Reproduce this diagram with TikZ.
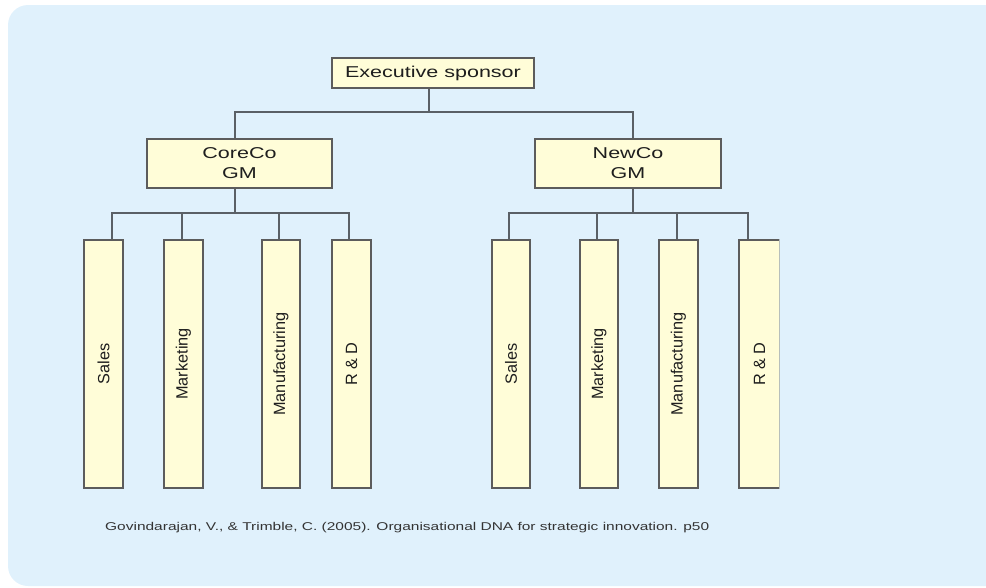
\documentclass[tikz,border=0pt]{standalone}
\usepackage{fontspec}
\setmainfont{Liberation Sans}
\newfontfamily\hfont[FakeStretch=1.37]{Liberation Sans}
\usetikzlibrary{calc}
\definecolor{bgblue}{HTML}{E0F1FC}
\definecolor{boxfill}{HTML}{FFFDD8}
\definecolor{boxline}{HTML}{5C5C5C}
\definecolor{connc}{HTML}{5A6066}
\definecolor{txt}{HTML}{1E1E1E}
\definecolor{captxt}{HTML}{333333}
\begin{document}
\begin{tikzpicture}[x=1pt,y=-1pt,
  hbox/.style={draw=boxline, fill=boxfill, line width=1.2pt, inner sep=0pt,
    font=\hfont\fontsize{15.7}{20}\selectfont, text=txt, align=center},
  vbox/.style={draw=boxline, fill=boxfill, line width=1.2pt, inner sep=0pt,
    minimum height=248pt, minimum width=39pt,
    font=\fontsize{16.3}{19}\selectfont, text=txt},
  conn/.style={draw=connc, line width=1.4pt},
  caption/.style={font=\hfont\fontsize{11.3}{14}\selectfont, text=captxt, inner sep=0pt}]
\useasboundingbox (0,0) rectangle (986,587);
\begin{scope}
  \clip (0,0) rectangle (986,587);
  \fill[bgblue, rounded corners=20pt] (1020,5) -- (8,5) -- (8,586) -- (1020,586) -- cycle;
\end{scope}

% top level
\node[hbox, minimum width=202pt, minimum height=30pt] (exec) at (433,73) {Executive sponsor};
\node[hbox, minimum width=185pt, minimum height=49pt] (core) at (239.5,163.5) {CoreCo\\GM};
\node[hbox, minimum width=186pt, minimum height=49pt] (new) at (628,163.5) {NewCo\\GM};

% CoreCo departments
\node[vbox] (lsal) at (103.5,364) {\rotatebox{90}{Sales}};
\node[vbox] (lmkt) at (183.5,364) {\rotatebox{90}{Marketing}};
\node[vbox, minimum width=38pt] (lman) at (281,364) {\rotatebox{90}{Manufacturing}};
\node[vbox] (lrd) at (351.5,364) {\rotatebox{90}{R \& D}};

% NewCo departments
\node[vbox, minimum width=38pt] (rsal) at (511,364) {\rotatebox{90}{Sales}};
\node[vbox, minimum width=38pt] (rmkt) at (599,364) {\rotatebox{90}{Marketing}};
\node[vbox] (rman) at (678.5,364) {\rotatebox{90}{Manufacturing}};
\begin{scope}
  \clip (0,0) rectangle (779.3,587);
  \node[vbox, minimum width=41pt] (rrd) at (759.5,364) {\rotatebox{90}{R \& D}};
\end{scope}

% buses
\coordinate (topbus) at (0,112);
\coordinate (lbus) at (0,213);

\draw[conn] ($(exec.south)+(-4,0)$) coordinate (es) -- (es |- topbus) -| ($(core.north)+(-4.5,0)$);
\draw[conn] (es |- topbus) -| ($(new.north)+(5,0)$);

\draw[conn] ($(core.south)+(-4.5,0)$) coordinate (cs) -- (cs |- lbus) -| ($(lsal.north)+(8.5,0)$);
\draw[conn] (cs |- lbus) -| ($(lmkt.north)+(-1.5,0)$);
\draw[conn] (cs |- lbus) -| ($(lman.north)+(-2,0)$);
\draw[conn] (cs |- lbus) -| ($(lrd.north)+(-2.5,0)$);

\draw[conn] ($(new.south)+(5,0)$) coordinate (ns) -- (ns |- lbus) -| ($(rsal.north)+(-2,0)$);
\draw[conn] (ns |- lbus) -| ($(rmkt.north)+(-2,0)$);
\draw[conn] (ns |- lbus) -| ($(rman.north)+(-1.5,0)$);
\draw[conn] (ns |- lbus) -| ($(rrd.north)+(-11.5,0)$);

\node[caption, anchor=west] (cap) at (105,528) {Govindarajan, V., \& Trimble, C. (2005). Organisational DNA for strategic innovation. p50};
\end{tikzpicture}
\end{document}
